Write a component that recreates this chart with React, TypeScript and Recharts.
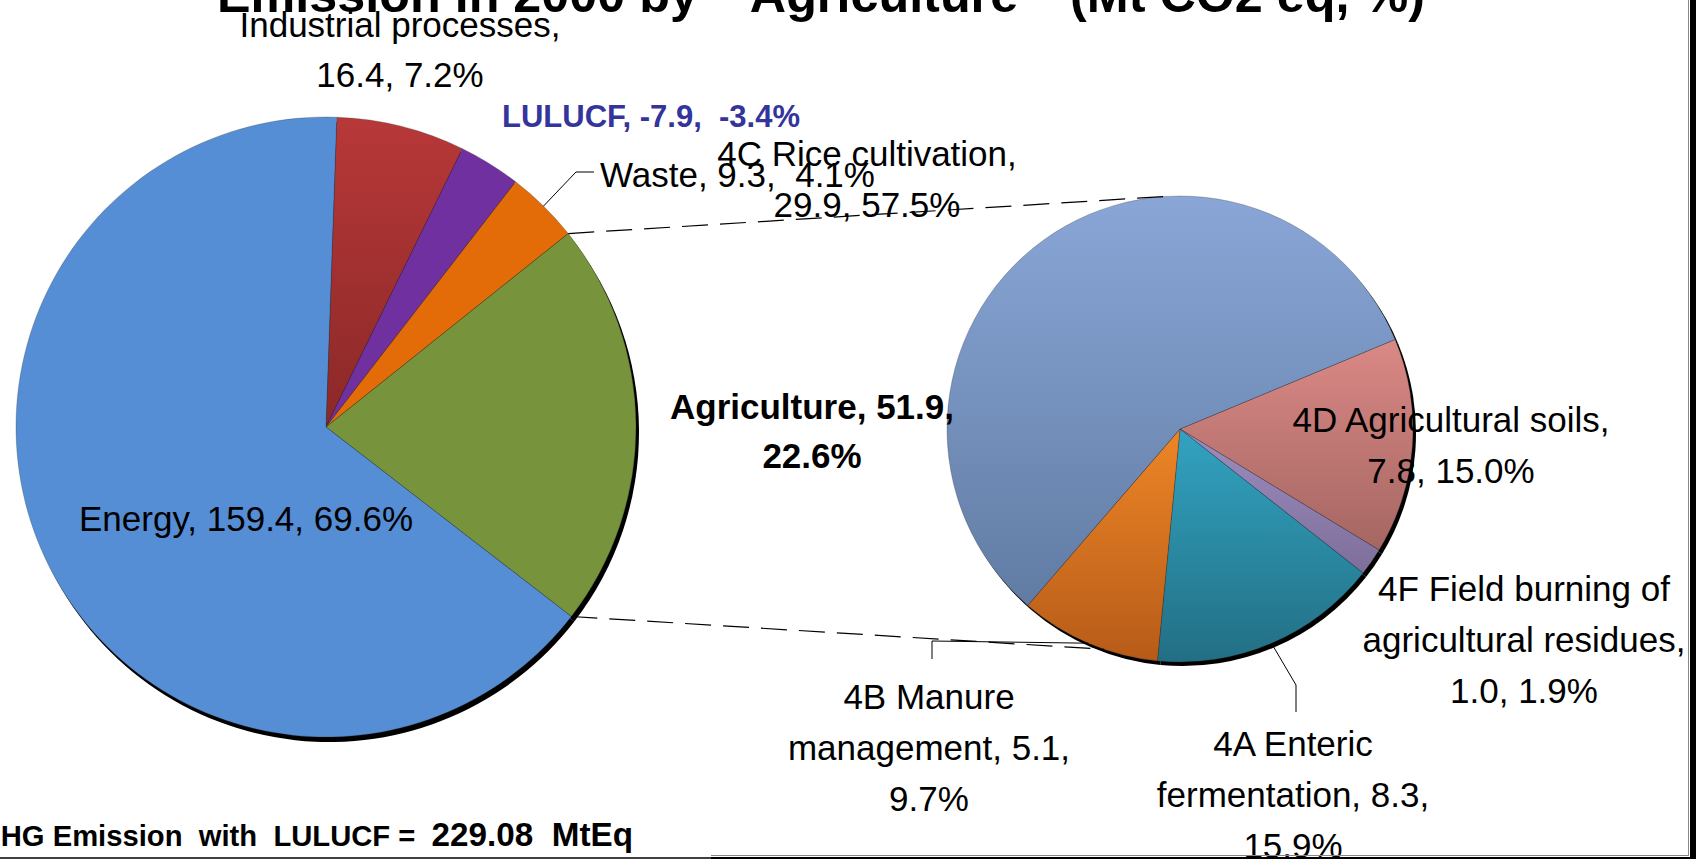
import React from 'react';
import { PieChart, Pie, Cell } from 'recharts';

// GHG emission by sector (Mt CO2 eq) and share of net total
const sectorNames = ['Industrial processes', 'LULUCF', 'Waste', 'Agriculture', 'Energy'];
const sectorValues = [16.4, -7.9, 9.3, 51.9, 159.4];
const sectorShares = [7.2, -3.4, 4.1, 22.6, 69.6];

// breakdown of the agriculture slice
const agriNames = [
  '4D Agricultural soils',
  '4F Field burning of agricultural residues',
  '4A Enteric fermentation',
  '4B Manure management',
  '4C Rice cultivation',
];
const agriValues = [7.8, 1.0, 8.3, 5.1, 29.9];
const agriShares = [15.0, 1.9, 15.9, 9.7, 57.5];

const netTotal = 229.08;

const W = 1705;
const H = 859;
const L = { cx: 326, cy: 427, r: 310 };
const R = { cx: 1180, cy: 429, r: 233 };
const FONT = "'Liberation Sans', Arial, sans-serif";
const RAD = Math.PI / 180;

const sectorFills = ['url(#gRed)', '#7030A0', '#E36C09', '#77933C', '#558ED5'];
const agriFills = ['url(#g4D)', 'url(#g4F)', 'url(#g4A)', 'url(#g4B)', 'url(#g4C)'];

const fmt = (v: number) => v.toFixed(1);
const polar = (cx: number, cy: number, r: number, deg: number): [number, number] => [
  cx + r * Math.cos(deg * RAD),
  cy - r * Math.sin(deg * RAD),
];
const words = (n: string, k: number) => {
  const w = n.split(' ');
  return [w.slice(0, k).join(' '), w.slice(k).join(' ')];
};

type LabelSpec = {
  x: number;
  y: number;
  lh?: number;
  size?: number;
  bold?: boolean;
  color?: string;
  anchor?: 'start' | 'middle' | 'end';
  leader?: [number, number][];
  lines: (n: string, v: number, s: number) => string[];
};

const sectorLabels: Record<string, LabelSpec> = {
  'Industrial processes': { x: 400, y: 24, lh: 50, lines: (n, v, s) => [`${n},`, `${fmt(v)}, ${fmt(s)}%`] },
  LULUCF: {
    x: 502, y: 116, anchor: 'start', size: 31, bold: true, color: '#34349C',
    lines: (n, v, s) => [`${n}, ${fmt(v)},  ${fmt(s)}%`],
  },
  Waste: {
    x: 600, y: 174, anchor: 'start', leader: [[576, 172], [594, 172]],
    lines: (n, v, s) => [`${n}, ${fmt(v)},  ${fmt(s)}%`],
  },
  Agriculture: { x: 812, y: 406, lh: 49, bold: true, lines: (n, v, s) => [`${n}, ${fmt(v)},`, `${fmt(s)}%`] },
  Energy: { x: 246, y: 518, lines: (n, v, s) => [`${n}, ${fmt(v)}, ${fmt(s)}%`] },
};

const agriLabels: Record<string, LabelSpec> = {
  '4C Rice cultivation': { x: 867, y: 153, lines: (n, v, s) => [`${n},`, `${fmt(v)}, ${fmt(s)}%`] },
  '4D Agricultural soils': { x: 1451, y: 419, lines: (n, v, s) => [`${n},`, `${fmt(v)}, ${fmt(s)}%`] },
  '4F Field burning of agricultural residues': {
    x: 1524, y: 588,
    lines: (n, v, s) => {
      const [a, b] = words(n, 4);
      return [a, `${b},`, `${fmt(v)}, ${fmt(s)}%`];
    },
  },
  '4A Enteric fermentation': {
    x: 1293, y: 743, leader: [[1296, 685], [1296, 712]],
    lines: (n, v, s) => {
      const [a, b] = words(n, 2);
      return [a, `${b}, ${fmt(v)},`, `${fmt(s)}%`];
    },
  },
  '4B Manure management': {
    x: 929, y: 696, leader: [[932, 641], [932, 659]],
    lines: (n, v, s) => {
      const [a, b] = words(n, 2);
      return [a, `${b}, ${fmt(v)},`, `${fmt(s)}%`];
    },
  },
};

const makeLabel = (specs: Record<string, LabelSpec>, extra?: (p: any) => React.ReactNode) => (p: any) => {
  const d = p.payload && p.payload.name ? p.payload : p;
  const spec = specs[d.name];
  if (!spec) return null;
  const size = spec.size ?? 35;
  const lh = spec.lh ?? 51;
  const lines = spec.lines(d.name, d.value, d.share);
  let leader = null;
  if (spec.leader) {
    const start = polar(p.cx, p.cy, p.outerRadius, p.midAngle);
    const pts = [start, ...spec.leader].map((q) => q.join(',')).join(' ');
    leader = <polyline points={pts} fill="none" stroke="#000" strokeWidth={1} />;
  }
  return (
    <g key={`label-${d.name}`}>
      {leader}
      <text
        x={spec.x}
        y={spec.y + size * 0.36}
        fontFamily={FONT}
        fontSize={size}
        fontWeight={spec.bold ? 'bold' : 'normal'}
        fill={spec.color ?? '#000'}
        textAnchor={spec.anchor ?? 'middle'}
        style={{ whiteSpace: 'pre' }}
      >
        {lines.map((t, i) => (
          <tspan key={i} x={spec.x} dy={i === 0 ? 0 : lh}>
            {t}
          </tspan>
        ))}
      </text>
      {extra ? extra(p) : null}
    </g>
  );
};

// dashed lines from the agriculture slice to the secondary pie
const connectors = (p: any) => {
  if (p.name !== 'Agriculture') return null;
  const a = polar(p.cx, p.cy, p.outerRadius, p.startAngle);
  const b = polar(p.cx, p.cy, p.outerRadius, p.endAngle);
  const ta = polar(R.cx, R.cy, R.r, 94);
  const tb = polar(R.cx, R.cy, R.r, -109);
  return (
    <g>
      <line x1={a[0]} y1={a[1]} x2={ta[0]} y2={ta[1]} stroke="#000" strokeWidth={1.2} strokeDasharray="26 12" />
      <line x1={b[0]} y1={b[1]} x2={tb[0]} y2={tb[1]} stroke="#000" strokeWidth={1.2} strokeDasharray="26 12" />
    </g>
  );
};

const grad = (id: string, top: string, bottom: string) => (
  <linearGradient id={id} x1="0" y1="0" x2="0" y2="1">
    <stop offset="0%" stopColor={top} />
    <stop offset="100%" stopColor={bottom} />
  </linearGradient>
);

export default function App() {
  const sectorData = sectorNames.map((name, i) => ({
    name,
    value: sectorValues[i],
    share: sectorShares[i],
    size: Math.abs(sectorValues[i]),
  }));
  const agriData = agriNames.map((name, i) => ({
    name,
    value: agriValues[i],
    share: agriShares[i],
    size: agriValues[i],
  }));

  return (
    <div style={{ position: 'absolute', left: 0, top: 0, width: W, height: H, overflow: 'hidden', background: '#fff' }}>
      <PieChart width={W} height={H} margin={{ top: 0, right: 0, bottom: 0, left: 0 }}>
        <defs>
          {grad('gRed', '#B83838', '#8B2828')}
          {grad('g4C', '#89A6D7', '#617CA3')}
          {grad('g4D', '#DA8986', '#A56662')}
          {grad('g4F', '#9D8EBF', '#7E6E9B')}
          {grad('g4A', '#32A3C1', '#226F84')}
          {grad('g4B', '#EE8627', '#B65B18')}
        </defs>
        <Pie
          data={agriData}
          dataKey="size"
          cx={R.cx + 3}
          cy={R.cy + 4}
          outerRadius={R.r}
          startAngle={22.6}
          endAngle={-337.4}
          stroke="none"
          isAnimationActive={false}
        >
          {agriData.map((d) => (
            <Cell key={d.name} fill="#000" />
          ))}
        </Pie>
        <Pie
          data={agriData}
          dataKey="size"
          cx={R.cx}
          cy={R.cy}
          outerRadius={R.r}
          startAngle={22.6}
          endAngle={-337.4}
          stroke="rgba(40,40,40,0.45)"
          strokeWidth={0.6}
          label={makeLabel(agriLabels)}
          labelLine={false}
          isAnimationActive={false}
        >
          {agriData.map((d, i) => (
            <Cell key={d.name} fill={agriFills[i]} />
          ))}
        </Pie>
        <Pie
          data={sectorData}
          dataKey="size"
          cx={L.cx + 3}
          cy={L.cy + 5}
          outerRadius={L.r}
          startAngle={88}
          endAngle={-272}
          stroke="none"
          isAnimationActive={false}
        >
          {sectorData.map((d) => (
            <Cell key={d.name} fill="#000" />
          ))}
        </Pie>
        <Pie
          data={sectorData}
          dataKey="size"
          cx={L.cx}
          cy={L.cy}
          outerRadius={L.r}
          startAngle={88}
          endAngle={-272}
          stroke="rgba(40,40,40,0.45)"
          strokeWidth={0.6}
          label={makeLabel(sectorLabels, connectors)}
          labelLine={false}
          isAnimationActive={false}
        >
          {sectorData.map((d, i) => (
            <Cell key={d.name} fill={sectorFills[i]} />
          ))}
        </Pie>
      </PieChart>

      <svg width={W} height={H} style={{ position: 'absolute', left: 0, top: 0, pointerEvents: 'none' }}>
        <text
          x={217}
          y={12}
          fontFamily={FONT}
          fontWeight="bold"
          fontSize={50}
          textLength={1208}
          lengthAdjust="spacingAndGlyphs"
          style={{ whiteSpace: 'pre' }}
        >
          {'Emission in 2000 by  "Agriculture"  (Mt CO2 eq, %)'}
        </text>
        <text
          x={-22}
          y={846}
          fontFamily={FONT}
          fontWeight="bold"
          textLength={655}
          lengthAdjust="spacingAndGlyphs"
          style={{ whiteSpace: 'pre' }}
        >
          <tspan fontSize={29}>{'GHG Emission  with  LULUCF =  '}</tspan>
          <tspan fontSize={33}>{`${netTotal.toFixed(2)}  MtEq`}</tspan>
        </text>
        <line x1={0} y1={858} x2={712} y2={858} stroke="#000" strokeWidth={1.5} />
        <line x1={711} y1={855.5} x2={1688} y2={855.5} stroke="#888" strokeWidth={1} />
        <line x1={1688.5} y1={0} x2={1688.5} y2={856} stroke="#888" strokeWidth={1} />
        <rect x={1690} y={0} width={6} height={H} fill="#000" />
        <rect x={711} y={857} width={985} height={2} fill="#000" />
      </svg>
    </div>
  );
}
